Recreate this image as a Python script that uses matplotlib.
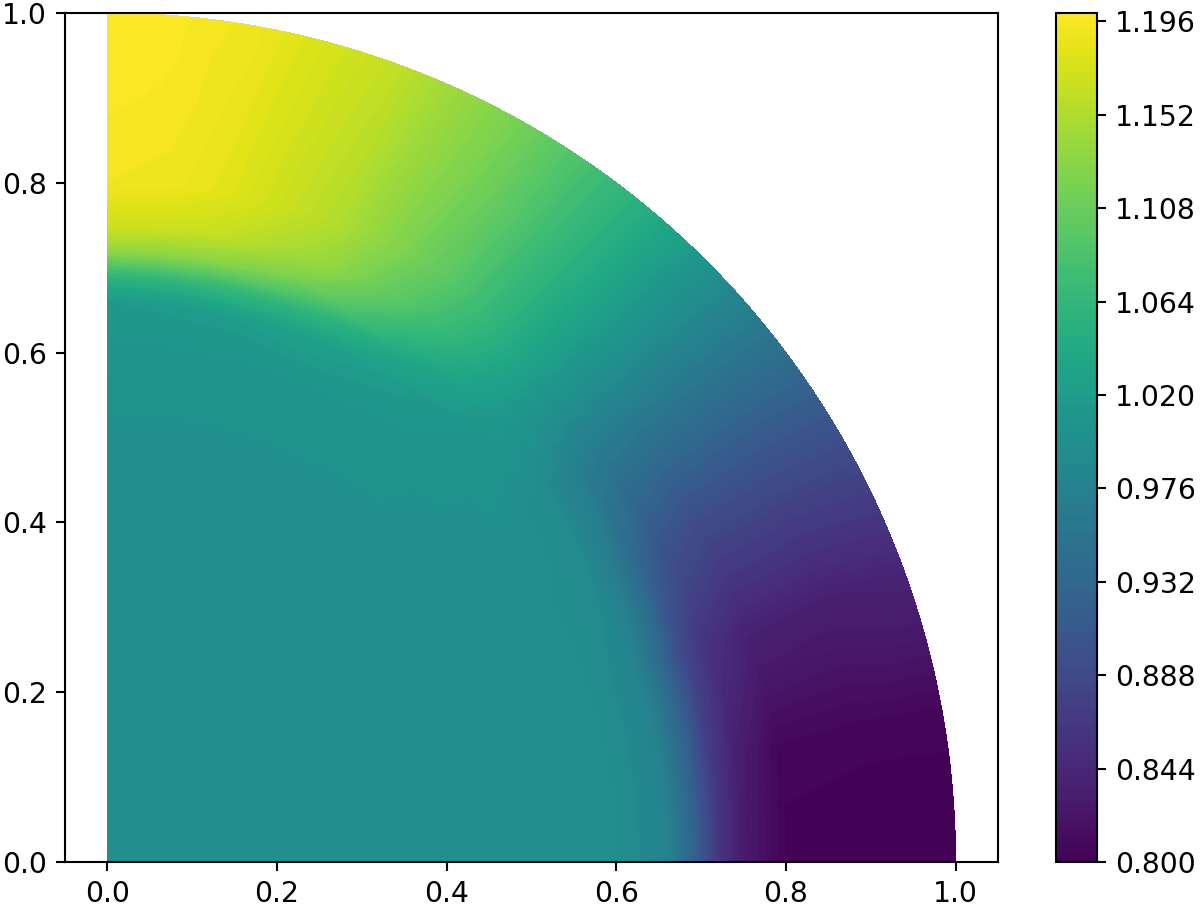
import numpy as np
import matplotlib
matplotlib.use('Agg')
import matplotlib.pyplot as plt
import matplotlib.tri as mtri

# Values, one row per radius, one column per angle
angles_deg = [0, 5, 10, 20, 30, 40, 50, 60, 70, 80, 85, 90]
radii = [0.0, 0.3, 0.5, 0.6, 0.66, 0.69, 0.72, 0.75, 0.8, 0.9, 1.0]

r_000 = [0.998, 0.998, 0.998, 0.998, 0.998, 0.998, 0.998, 0.998, 0.998, 0.998, 0.998, 0.998]
r_030 = [0.998, 0.998, 0.998, 0.998, 0.998, 0.998, 0.998, 0.998, 0.998, 0.998, 0.998, 0.998]
r_050 = [0.998, 0.998, 0.998, 0.998, 0.998, 0.998, 0.998, 0.998, 0.998, 0.998, 0.998, 0.998]
r_060 = [0.996, 0.996, 0.996, 0.996, 0.997, 0.999, 1.001, 1.005, 1.006, 1.006, 1.006, 1.006]
r_066 = [0.978, 0.978, 0.978, 0.980, 0.988, 0.995, 1.007, 1.020, 1.025, 1.020, 1.018, 1.016]
r_069 = [0.925, 0.927, 0.930, 0.942, 0.966, 0.985, 1.014, 1.040, 1.060, 1.065, 1.062, 1.060]
r_072 = [0.862, 0.865, 0.870, 0.888, 0.932, 0.972, 1.022, 1.065, 1.110, 1.130, 1.133, 1.135]
r_075 = [0.828, 0.830, 0.835, 0.858, 0.905, 0.965, 1.028, 1.085, 1.138, 1.163, 1.168, 1.170]
r_080 = [0.803, 0.804, 0.808, 0.838, 0.892, 0.963, 1.033, 1.100, 1.152, 1.182, 1.190, 1.192]
r_090 = [0.801, 0.802, 0.806, 0.834, 0.891, 0.963, 1.040, 1.108, 1.157, 1.186, 1.195, 1.197]
r_100 = [0.800, 0.802, 0.806, 0.840, 0.895, 0.965, 1.045, 1.112, 1.162, 1.190, 1.197, 1.200]

rows = [r_000, r_030, r_050, r_060, r_066, r_069, r_072, r_075, r_080, r_090, r_100]

W, H = 1200, 907
DPI = 188
plt.rcParams['font.size'] = 10.8
fig = plt.figure(figsize=(W / DPI, H / DPI), dpi=DPI)
ax = fig.add_axes([65 / W, 1 - 862 / H, 933 / W, 849 / H])
cax = fig.add_axes([1056 / W, 1 - 862 / H, 41 / W, 849 / H])

# Mesh in (angle, radius) space, refined there so the outer edge stays round
th = np.radians(angles_deg)
tt, rr = np.meshgrid(th, radii)
z = np.array(rows).ravel()
nr, nt = len(radii), len(angles_deg)
triangles = []
for i in range(nr - 1):
    for j in range(nt - 1):
        a = i * nt + j
        b = a + 1
        c = a + nt
        d = c + 1
        triangles.append([a, b, d])
        triangles.append([a, d, c])
base = mtri.Triangulation(tt.ravel(), rr.ravel(), triangles)
linear = mtri.LinearTriInterpolator(base, z)
fine, fine_z = mtri.UniformTriRefiner(base).refine_field(z, triinterpolator=linear, subdiv=4)

x = fine.y * np.cos(fine.x)
y = fine.y * np.sin(fine.x)
levels = np.linspace(0.8, 1.2, 101)
cs = ax.tricontourf(x, y, fine.triangles, fine_z, levels=levels, cmap='viridis')

ax.set_xlim(-0.05, 1.05)
ax.set_ylim(0, 1)
fig.colorbar(cs, cax=cax)

fig.savefig('out.png', dpi=DPI)
